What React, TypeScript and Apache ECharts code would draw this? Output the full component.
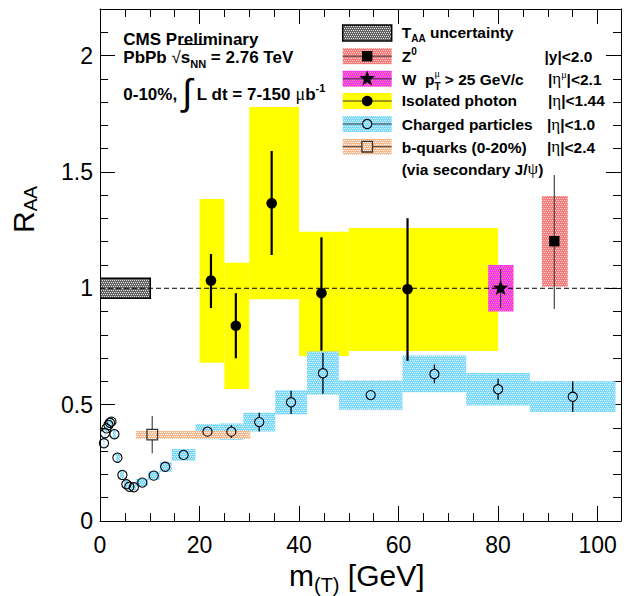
import React, { useEffect, useRef } from 'react';
import * as echarts from 'echarts';

// ---------------- axes ----------------
const X_MIN = 0;
const X_MAX = 104.7;
const Y_MIN = 0;
const Y_MAX = 2.2;
const X_STEP = 20;
const Y_STEP = 0.5;

// ---------------- T_AA uncertainty ----------------
const taaBinLo = [0];
const taaBinHi = [10.1];
const taaLo = [0.957];
const taaHi = [1.043];

// ---------------- Isolated photon ----------------
const phX = [22.3, 27.3, 34.5, 44.5, 61.8];
const phY = [1.033, 0.839, 1.365, 0.979, 0.996];
const phErrUp = [0.114, 0.14, 0.225, 0.24, 0.305];
const phErrDn = [0.118, 0.14, 0.222, 0.247, 0.308];
const phBinLo = [20, 25, 30, 40, 50];
const phBinHi = [25, 30, 40, 50, 80];
const phSysLo = [0.68, 0.567, 0.953, 0.709, 0.731];
const phSysHi = [1.384, 1.11, 1.779, 1.243, 1.259];

// ---------------- W ----------------
const wX = [80.5];
const wY = [1.0];
const wErrUp = [0.083];
const wErrDn = [0.086];
const wBinLo = [78.0];
const wBinHi = [83.1];
const wSysLo = [0.9];
const wSysHi = [1.1];

// ---------------- Z0 ----------------
const zX = [91.3];
const zY = [1.202];
const zErrUp = [0.285];
const zErrDn = [0.291];
const zBinLo = [88.8];
const zBinHi = [94.0];
const zSysLo = [1.007];
const zSysHi = [1.397];

// ---------------- Charged particles ----------------
const chX = [0.8, 1.0, 1.3, 1.7, 2.0, 2.3, 2.9, 3.5, 4.5, 5.3, 5.9, 6.8, 8.5, 10.8, 13.1, 16.8, 21.6, 26.4, 32.0, 38.4, 44.8, 54.4, 67.2, 80.0, 95.0];
const chY = [0.334, 0.377, 0.398, 0.413, 0.422, 0.427, 0.373, 0.272, 0.198, 0.158, 0.147, 0.145, 0.165, 0.195, 0.233, 0.284, 0.384, 0.384, 0.425, 0.51, 0.635, 0.541, 0.632, 0.566, 0.534];
const chErr = [0.01, 0.01, 0.01, 0.01, 0.01, 0.01, 0.01, 0.01, 0.01, 0.01, 0.01, 0.01, 0.01, 0.01, 0.01, 0.012, 0.015, 0.028, 0.04, 0.05, 0.088, 0.015, 0.04, 0.045, 0.066];
const chBinLo = [0.7, 0.9, 1.1, 1.5, 1.9, 2.2, 2.6, 3.2, 4.0, 4.8, 5.6, 6.4, 7.2, 9.6, 12.0, 14.4, 19.2, 24.0, 28.8, 35.2, 41.6, 48.0, 60.8, 73.6, 86.4];
const chBinHi = [0.9, 1.1, 1.5, 1.9, 2.2, 2.6, 3.2, 4.0, 4.8, 5.6, 6.4, 7.2, 9.6, 12.0, 14.4, 19.2, 24.0, 28.8, 35.2, 41.6, 48.0, 60.8, 73.6, 86.4, 103.6];
const chSys = [0.02, 0.02, 0.02, 0.02, 0.02, 0.02, 0.02, 0.02, 0.018, 0.015, 0.015, 0.015, 0.016, 0.018, 0.021, 0.025, 0.033, 0.035, 0.04, 0.052, 0.093, 0.063, 0.079, 0.07, 0.066];

// ---------------- b-quarks ----------------
const bX = [10.5];
const bY = [0.371];
const bErr = [0.08];
const bBinLo = [7.2];
const bBinHi = [30.2];
const bSysLo = [0.352];
const bSysHi = [0.387];

// ---------------- reference line ----------------
const refY = 1;

const SANS = '"Liberation Sans", Arial, Helvetica, sans-serif';
const SERIF = '"Liberation Serif", "Times New Roman", serif';

type Part = { t: string; size: number; w?: string; serif?: boolean; dy?: number; noAdv?: boolean };

let measureCtx: CanvasRenderingContext2D | null = null;
function measure(t: string, size: number, w: string, fam: string) {
  if (!measureCtx) measureCtx = document.createElement('canvas').getContext('2d');
  measureCtx!.font = `${w} ${size}px ${fam}`;
  return measureCtx!.measureText(t).width;
}

function seq(x0: number, base: number, parts: Part[], defW = 'bold'): any[] {
  let x = x0;
  const out: any[] = [];
  for (const p of parts) {
    const w = p.w || defW;
    const fam = p.serif ? SERIF : SANS;
    out.push({
      type: 'text',
      x,
      y: base + (p.dy || 0) - 0.33 * p.size,
      style: {
        text: p.t,
        fontSize: p.size,
        fontWeight: w,
        fontFamily: fam,
        fill: '#000',
        align: 'left',
        verticalAlign: 'middle',
        textAlign: 'left',
        textVerticalAlign: 'middle',
      },
    });
    if (!p.noAdv) x += measure(p.t, p.size, w, fam);
  }
  return out;
}

function makePattern(base: string, dot: string) {
  const c = document.createElement('canvas');
  c.width = 4;
  c.height = 4;
  const g = c.getContext('2d')!;
  g.fillStyle = base;
  g.fillRect(0, 0, 4, 4);
  g.fillStyle = dot;
  [[0, 0], [2, 0], [1, 2], [3, 2]].forEach(([a, b]) => g.fillRect(a, b, 1, 1));
  return { image: c, repeat: 'repeat', imageWidth: 4, imageHeight: 4 };
}

function starPoints(cx: number, cy: number, R: number, r: number) {
  const pts: number[][] = [];
  for (let i = 0; i < 10; i++) {
    const a = -Math.PI / 2 + (i * Math.PI) / 5;
    const rr = i % 2 === 0 ? R : r;
    pts.push([cx + rr * Math.cos(a), cy + rr * Math.sin(a)]);
  }
  return pts;
}

function markerShape(kind: string, cx: number, cy: number): any[] {
  switch (kind) {
    case 'dot':
      return [{ type: 'circle', shape: { cx, cy, r: 5.3 }, style: { fill: '#000' } }];
    case 'open':
      return [{ type: 'circle', shape: { cx, cy, r: 4.6 }, style: { fill: 'none', stroke: '#000', lineWidth: 1.1 } }];
    case 'square':
      return [{ type: 'rect', shape: { x: cx - 5.2, y: cy - 5.2, width: 10.4, height: 10.4 }, style: { fill: '#000' } }];
    case 'openSquare':
      return [{ type: 'rect', shape: { x: cx - 5.3, y: cy - 5.3, width: 10.6, height: 10.6 }, style: { fill: 'none', stroke: '#333', lineWidth: 1.3 } }];
    case 'star':
      return [{ type: 'polygon', shape: { points: starPoints(cx, cy, 8.2, 3.4) }, style: { fill: '#000' } }];
  }
  return [];
}
const markerGap: Record<string, number> = { dot: 0, open: 4.6, square: 0, openSquare: 5.3, star: 0 };

function boxSeries(lo: number[], hi: number[], ylo: number[], yhi: number[], fill: any, stroke?: string) {
  return {
    type: 'custom',
    silent: true,
    clip: true,
    data: lo.map((l, i) => [l, hi[i], ylo[i], yhi[i]]),
    encode: { x: [0, 1], y: [2, 3] },
    renderItem: (_p: any, api: any) => {
      const p1 = api.coord([api.value(0), api.value(3)]);
      const p2 = api.coord([api.value(1), api.value(2)]);
      return {
        type: 'rect',
        shape: { x: p1[0], y: p1[1], width: p2[0] - p1[0], height: p2[1] - p1[1] },
        style: stroke ? { fill, stroke, lineWidth: 1.5 } : { fill },
      };
    },
  };
}

function pointSeries(xs: number[], ys: number[], up: number[], dn: number[], kind: string, color: string, lw: number) {
  return {
    type: 'custom',
    silent: true,
    clip: false,
    data: xs.map((x, i) => [x, ys[i], up[i], dn[i]]),
    encode: { x: 0, y: 1 },
    renderItem: (_p: any, api: any) => {
      const x = api.value(0);
      const y = api.value(1);
      const c = api.coord([x, y]);
      const top = api.coord([x, y + api.value(2)]);
      const bot = api.coord([x, y - api.value(3)]);
      const gap = markerGap[kind];
      const children: any[] = [];
      if (top[1] < c[1] - gap)
        children.push({ type: 'line', shape: { x1: c[0], y1: c[1] - gap, x2: c[0], y2: top[1] }, style: { stroke: color, lineWidth: lw } });
      if (bot[1] > c[1] + gap)
        children.push({ type: 'line', shape: { x1: c[0], y1: c[1] + gap, x2: c[0], y2: bot[1] }, style: { stroke: color, lineWidth: lw } });
      children.push(...markerShape(kind, c[0], c[1]));
      return { type: 'group', children };
    },
  };
}

function axisCommon(extra: any) {
  return {
    type: 'value',
    axisLine: { show: true, onZero: false, lineStyle: { color: '#000', width: 1 } },
    axisTick: { show: true, inside: true, length: 15, lineStyle: { color: '#000', width: 1 } },
    splitLine: { show: false },
    minorSplitLine: { show: false },
    ...extra,
  };
}

export default function App() {
  const ref = useRef<HTMLDivElement>(null);
  useEffect(() => {
    if (!ref.current) return;
    const chart = echarts.init(ref.current, null, { renderer: 'svg' });

    const patCyan = makePattern('#7ad8fb', '#dff6ff');
    const patRed = makePattern('#f47a7a', '#ffd0d0');
    const patMag = makePattern('#f436f2', '#ff8c8c');
    const patOrange = makePattern('#f7b88c', '#ffffff');
    const patGray = makePattern('#646464', '#e0e0e0');
    const yellow = '#ffff00';

    const xLabel = {
      show: true,
      margin: 12,
      fontSize: 23,
      fontFamily: SANS,
      color: '#000',
      formatter: (v: number) => (Math.abs(v - X_MAX) < 1e-6 ? '' : String(v)),
    };
    const yLabel = {
      show: true,
      margin: 7,
      fontSize: 23,
      fontFamily: SANS,
      color: '#000',
      formatter: (v: number) => (Math.abs(v - Y_MAX) < 1e-6 ? '' : String(v)),
    };

    // legend
    const legX0 = 342.7;
    const legX1 = 391.7;
    const legMx = 367.2;
    const legRows = [33, 56.2, 78.8, 101, 124, 146.7];
    const legFills = [patGray, patRed, patMag, yellow, patCyan, patOrange];
    const legKinds = ['', 'square', 'star', 'dot', 'open', 'openSquare'];
    const legend: any[] = [];
    legRows.forEach((cy, i) => {
      legend.push({
        type: 'rect',
        shape: { x: legX0, y: cy - 8, width: legX1 - legX0, height: 16 },
        style: i === 0 ? { fill: legFills[i], stroke: '#000', lineWidth: 1.5 } : { fill: legFills[i] },
      });
      if (i > 0) {
        const gap = markerGap[legKinds[i]];
        legend.push({ type: 'line', shape: { x1: legX0, y1: cy, x2: legMx - gap, y2: cy }, style: { stroke: '#333', lineWidth: 1 } });
        legend.push({ type: 'line', shape: { x1: legMx + gap, y1: cy, x2: legX1, y2: cy }, style: { stroke: '#333', lineWidth: 1 } });
        legend.push(...markerShape(legKinds[i], legMx, cy));
      }
    });
    const LS = 15.5;
    const LX = 401.7;
    const lb = [37.7, 61.7, 84.3, 105.7, 130, 152.3, 174.5];
    const texts: any[] = [
      ...seq(LX, lb[0], [{ t: 'T', size: LS }, { t: 'AA', size: 10, dy: 4 }, { t: ' uncertainty', size: LS }]),
      ...seq(LX, lb[1], [{ t: 'Z', size: LS }, { t: '0', size: 10, dy: -7 }]),
      ...seq(LX, lb[2], [
        { t: 'W  p', size: LS },
        { t: 'μ', size: 10, dy: -8, serif: true, w: 'normal', noAdv: true },
        { t: 'T', size: 10, dy: 5 },
        { t: ' > 25 GeV/c', size: LS },
      ]),
      ...seq(LX, lb[3], [{ t: 'Isolated photon', size: LS }]),
      ...seq(LX, lb[4], [{ t: 'Charged particles', size: LS }]),
      ...seq(LX, lb[5], [{ t: 'b-quarks (0-20%)', size: LS }]),
      ...seq(LX, lb[6], [{ t: '(via secondary J/', size: LS }, { t: 'ψ', size: 17, serif: true, w: 'normal' }, { t: ')', size: LS }]),
      ...seq(544.5, lb[1], [{ t: '|y|<2.0', size: LS }]),
      ...seq(548, lb[2], [
        { t: '|', size: LS },
        { t: 'η', size: 17, serif: true, w: 'normal' },
        { t: 'μ', size: 10, dy: -7, serif: true, w: 'normal' },
        { t: '|<2.1', size: LS },
      ]),
      ...seq(548, lb[3], [{ t: '|', size: LS }, { t: 'η', size: 17, serif: true, w: 'normal' }, { t: '|<1.44', size: LS }]),
      ...seq(547, lb[4], [{ t: '|', size: LS }, { t: 'η', size: 17, serif: true, w: 'normal' }, { t: '|<1.0', size: LS }]),
      ...seq(547, lb[5], [{ t: '|', size: LS }, { t: 'η', size: 17, serif: true, w: 'normal' }, { t: '|<2.4', size: LS }]),
    ];

    // top-left header
    const HS = 17;
    const HX = 123.3;
    texts.push(...seq(HX, 45, [{ t: 'CMS Preliminary', size: HS }]));
    const pb = seq(HX, 62.7, [
      { t: 'PbPb ', size: HS },
      { t: '√', size: HS, w: 'normal' },
      { t: 's', size: HS },
      { t: 'NN', size: 11, dy: 5 },
      { t: ' = 2.76 TeV', size: HS },
    ]);
    texts.push(...pb);
    const sqrtX = pb[1].x + measure('√', HS, 'normal', SANS) - 0.5;
    const sEnd = pb[3].x + measure('NN', 11, 'bold', SANS);
    texts.push({ type: 'line', shape: { x1: sqrtX, y1: 44.5, x2: sEnd, y2: 44.5 }, style: { stroke: '#000', lineWidth: 1 } });
    texts.push(
      ...seq(HX, 100, [
        { t: '0-10%, ', size: HS },
        { t: '∫', size: 37, w: 'normal', dy: 5 },
        { t: ' L dt = 7-150 ', size: HS },
        { t: 'μ', size: 18, serif: true, w: 'normal' },
        { t: 'b', size: HS },
        { t: '-1', size: 11, dy: -8 },
      ])
    );

    // axis titles
    texts.push(...seq(289, 585, [{ t: 'm', size: 30 }, { t: '(T)', size: 20, dy: 7 }, { t: ' [GeV]', size: 30 }], 'normal'));
    texts.push({
      type: 'group',
      x: 33,
      y: 233,
      rotation: Math.PI / 2,
      children: seq(0, 0, [{ t: 'R', size: 30 }, { t: 'AA', size: 19, dy: 4 }], 'normal'),
    });

    const option: any = {
      animation: false,
      grid: { left: 100, top: 9, right: 0.5, bottom: 75, containLabel: false },
      xAxis: [
        axisCommon({
          position: 'bottom',
          min: X_MIN,
          max: X_MAX,
          interval: X_STEP,
          minorTick: { show: true, splitNumber: 4, length: 8, lineStyle: { color: '#000', width: 1 } },
          axisLabel: xLabel,
        }),
        axisCommon({
          position: 'top',
          min: X_MIN,
          max: X_MAX,
          interval: X_STEP,
          minorTick: { show: true, splitNumber: 4, length: 8, lineStyle: { color: '#000', width: 1 } },
          axisLabel: { show: false },
        }),
      ],
      yAxis: [
        axisCommon({
          position: 'left',
          min: Y_MIN,
          max: Y_MAX,
          interval: Y_STEP,
          minorTick: { show: true, splitNumber: 5, length: 8, lineStyle: { color: '#000', width: 1 } },
          axisLabel: yLabel,
        }),
        axisCommon({
          position: 'right',
          min: Y_MIN,
          max: Y_MAX,
          interval: Y_STEP,
          minorTick: { show: true, splitNumber: 5, length: 8, lineStyle: { color: '#000', width: 1 } },
          axisLabel: { show: false },
        }),
      ],
      graphic: [...legend, ...texts],
      series: [
        boxSeries(taaBinLo, taaBinHi, taaLo, taaHi, patGray, '#000'),
        boxSeries(phBinLo, phBinHi, phSysLo, phSysHi, yellow),
        boxSeries(chBinLo, chBinHi, chY.map((v, i) => v - chSys[i]), chY.map((v, i) => v + chSys[i]), patCyan),
        { ...boxSeries(bBinLo, bBinHi, bSysLo, bSysHi, patOrange), itemStyle: { opacity: 0.85 } },
        boxSeries(wBinLo, wBinHi, wSysLo, wSysHi, patMag),
        boxSeries(zBinLo, zBinHi, zSysLo, zSysHi, patRed),
        {
          type: 'line',
          silent: true,
          data: [
            [X_MIN, refY],
            [X_MAX, refY],
          ],
          symbol: 'none',
          lineStyle: { color: '#000', width: 1, type: [5, 3] },
        },
        pointSeries(chX, chY, chErr, chErr, 'open', '#000', 1.3),
        pointSeries(bX, bY, bErr, bErr, 'openSquare', '#555', 1.3),
        pointSeries(phX, phY, phErrUp, phErrDn, 'dot', '#000', 2.2),
        pointSeries(wX, wY, wErrUp, wErrDn, 'star', '#333', 1.2),
        pointSeries(zX, zY, zErrUp, zErrDn, 'square', '#444', 1.2),
      ],
    };
    chart.setOption(option);
    return () => chart.dispose();
  }, []);
  return <div ref={ref} style={{ position: 'absolute', left: 0, top: 0, width: 624, height: 596 }} />;
}
